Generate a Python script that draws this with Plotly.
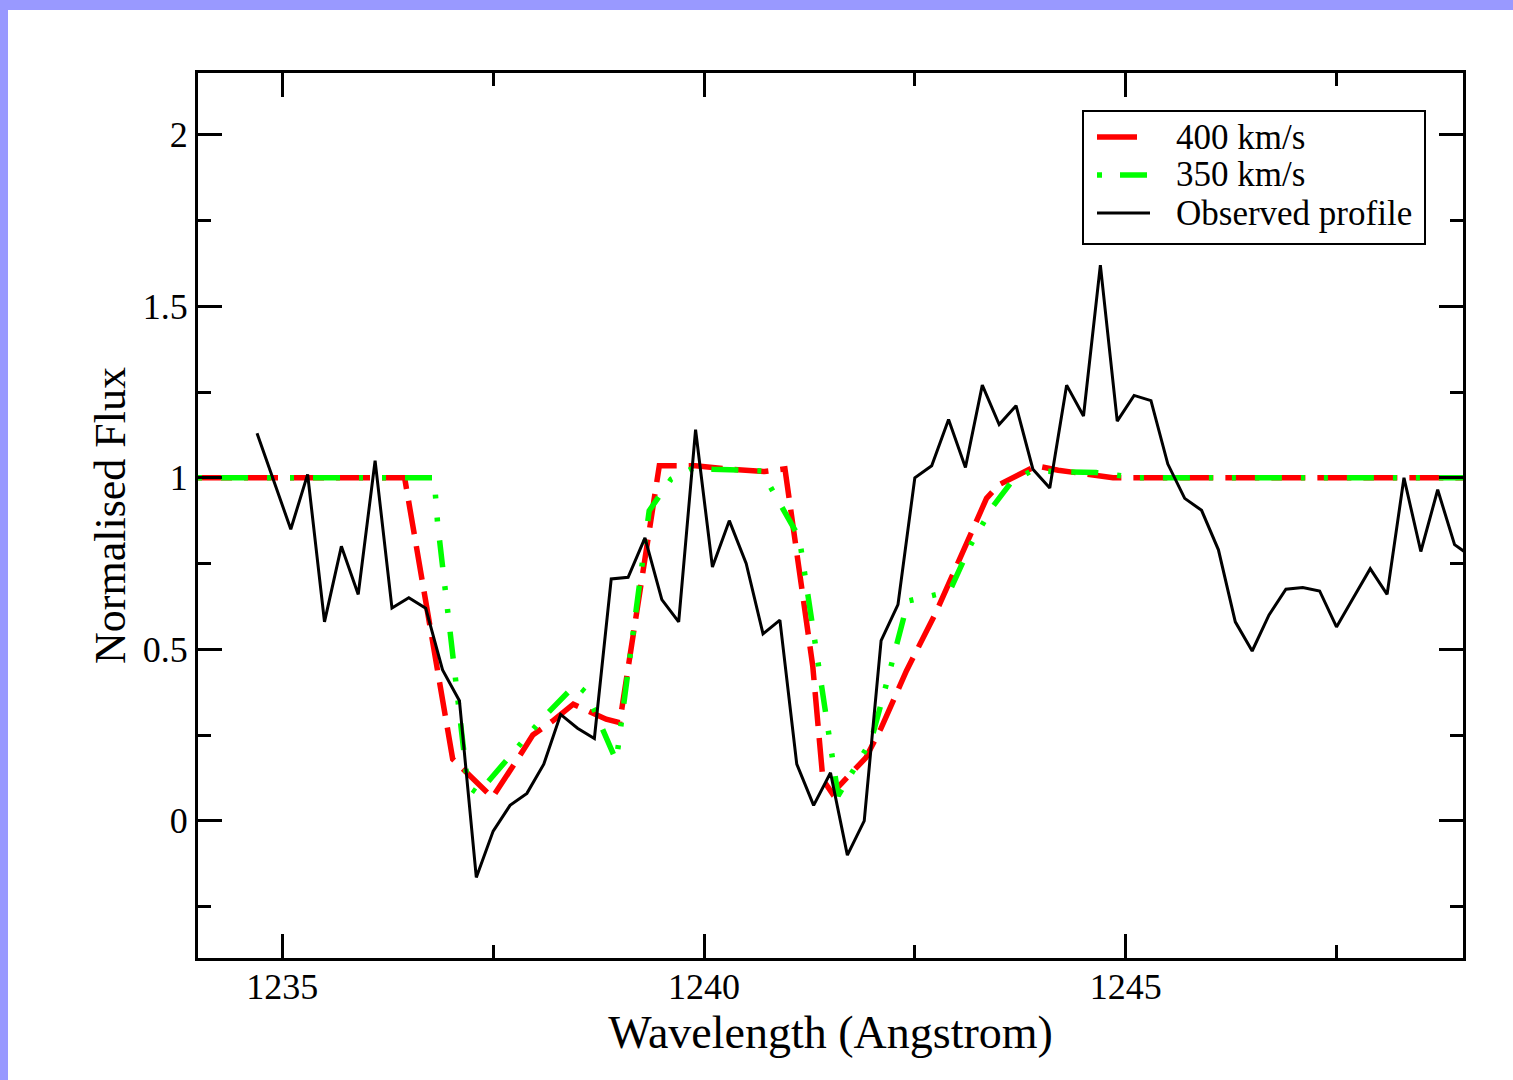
import plotly.graph_objects as go

# Observed profile
obs_x = [1234.7, 1234.9, 1235.1, 1235.3, 1235.5, 1235.7, 1235.9, 1236.1, 1236.3, 1236.5,
         1236.7, 1236.9, 1237.1, 1237.3, 1237.5, 1237.7, 1237.9, 1238.1, 1238.3, 1238.5,
         1238.7, 1238.9, 1239.1, 1239.3, 1239.5, 1239.7, 1239.9, 1240.1, 1240.3, 1240.5,
         1240.7, 1240.9, 1241.1, 1241.3, 1241.5, 1241.7, 1241.9, 1242.1, 1242.3, 1242.5,
         1242.7, 1242.9, 1243.1, 1243.3, 1243.5, 1243.7, 1243.9, 1244.1, 1244.3, 1244.5,
         1244.7, 1244.9, 1245.1, 1245.3, 1245.5, 1245.7, 1245.9, 1246.1, 1246.3, 1246.5,
         1246.7, 1246.9, 1247.1, 1247.3, 1247.5, 1247.7, 1247.9, 1248.1, 1248.3, 1248.5,
         1248.7, 1248.9, 1249.1]
obs_y = [1.13, 0.99, 0.85, 1.01, 0.58, 0.80, 0.66, 1.05, 0.62, 0.65,
         0.62, 0.44, 0.35, -0.165, -0.03, 0.045, 0.08, 0.165, 0.31, 0.27,
         0.24, 0.705, 0.71, 0.825, 0.645, 0.58, 1.14, 0.74, 0.875, 0.75,
         0.545, 0.585, 0.165, 0.045, 0.14, -0.10, 0.0, 0.525, 0.63, 1.0,
         1.035, 1.17, 1.03, 1.27, 1.155, 1.21, 1.025, 0.97, 1.27, 1.18,
         1.62, 1.165, 1.24, 1.225, 1.04, 0.94, 0.905, 0.79, 0.58, 0.495,
         0.60, 0.675, 0.68, 0.67, 0.565, 0.65, 0.735, 0.66, 1.0, 0.785,
         0.965, 0.805, 0.77]

# Model 400 km/s
red_x = [1234.0, 1236.45, 1237.02, 1237.49, 1237.79, 1237.97, 1238.2, 1238.45, 1238.84, 1239.0,
         1239.47, 1239.9, 1240.3, 1240.72, 1240.96, 1241.11, 1241.29, 1241.41, 1241.52, 1241.92,
         1242.1, 1242.4, 1242.75, 1243.35, 1243.5, 1243.94, 1244.2, 1244.85, 1249.0]
red_y = [1.0, 1.0, 0.18, 0.068, 0.18, 0.25, 0.29, 0.34, 0.296, 0.286,
         1.035, 1.035, 1.025, 1.018, 1.026, 0.76, 0.45, 0.12, 0.08, 0.184,
         0.27, 0.437, 0.607, 0.94, 0.98, 1.035, 1.022, 1.0, 1.0]

# Model 350 km/s
green_x = [1234.0, 1236.8, 1236.84, 1237.04, 1237.2, 1237.32, 1237.61, 1237.85, 1238.09, 1238.48,
           1238.6, 1238.72, 1238.96, 1239.35, 1239.61, 1239.89, 1240.1, 1240.68, 1241.13, 1241.59,
           1241.79, 1241.98, 1242.12, 1242.42, 1242.91, 1243.17, 1243.43, 1243.64, 1243.88, 1244.65,
           1245.12, 1249.0]
green_y = [1.0, 1.0, 0.87, 0.46, 0.1, 0.08, 0.165, 0.233, 0.30, 0.398,
           0.374, 0.311, 0.175, 0.904, 0.996, 1.03, 1.025, 1.02, 0.825, 0.073,
           0.155, 0.233, 0.359, 0.641, 0.668, 0.808, 0.918, 0.986, 1.02, 1.015,
           1.0, 1.0]

legend_labels = ["400 km/s", "350 km/s", "Observed profile"]

FONT = "Liberation Serif, Times New Roman, serif"
RED_DASH = "34px,12px"
GREEN_DASH = "4px,19px,27px,19px,4px,19px"

# plot area in pixels (for placing the hand-drawn legend box)
L, R, T, B = 198, 1463, 73, 958
def px(x):
    return (x - L) / (R - L)
def py(y):
    return (B - y) / (B - T)

fig = go.Figure()
fig.add_trace(go.Scatter(x=red_x, y=red_y, mode="lines", name=legend_labels[0],
                         line=dict(color="#ff0000", width=5.5, dash=RED_DASH)))
fig.add_trace(go.Scatter(x=green_x, y=green_y, mode="lines", name=legend_labels[1],
                         line=dict(color="#00ff00", width=5.5, dash=GREEN_DASH)))
fig.add_trace(go.Scatter(x=obs_x, y=obs_y, mode="lines", name=legend_labels[2],
                         line=dict(color="black", width=3)))

# lavender frame: white panel over lavender paper
fig.add_shape(type="rect", xref="paper", yref="paper", layer="below",
              x0=px(8), x1=1.2, y0=-0.3, y1=py(10),
              fillcolor="white", line=dict(width=0))

# legend box
fig.add_shape(type="rect", xref="paper", yref="paper", layer="above",
              x0=px(1083), x1=px(1425), y0=py(244), y1=py(111),
              fillcolor="white", line=dict(color="black", width=2))
legend_styles = [
    dict(color="#ff0000", width=5.5, dash="solid", x0=1097, x1=1137),
    dict(color="#00ff00", width=5.5, dash="5px,18px,27px,19px", x0=1097, x1=1147),
    dict(color="black", width=3, dash="solid", x0=1097, x1=1150),
]
row_y = [137, 175, 213]
for lab, st, yy in zip(legend_labels, legend_styles, row_y):
    fig.add_shape(type="line", xref="paper", yref="paper", layer="above",
                  x0=px(st["x0"]), x1=px(st["x1"]), y0=py(yy), y1=py(yy),
                  line=dict(color=st["color"], width=st["width"], dash=st["dash"]))
    fig.add_annotation(xref="paper", yref="paper", x=px(1174), y=py(yy),
                       xanchor="left", yanchor="middle", showarrow=False, text=lab,
                       font=dict(family=FONT, size=35, color="black"))

axis_common = dict(showline=True, linecolor="black", linewidth=3, mirror="allticks",
                   ticks="inside", ticklen=24, tickwidth=3, tickcolor="black",
                   showgrid=False, zeroline=False,
                   tickfont=dict(family=FONT, size=36, color="black"))

fig.update_xaxes(range=[1234, 1249], tick0=1235, dtick=5,
                 minor=dict(dtick=2.5, ticks="inside", ticklen=13, tickwidth=3,
                            tickcolor="black", showgrid=False),
                 title=dict(text="Wavelength (Angstrom)", standoff=5,
                            font=dict(family=FONT, size=46, color="black")),
                 ticklabelstandoff=-5, **axis_common)
fig.update_yaxes(range=[-0.4, 2.18], tick0=0, dtick=0.5,
                 minor=dict(dtick=0.25, ticks="inside", ticklen=13, tickwidth=3,
                            tickcolor="black", showgrid=False),
                 title=dict(text="Normalised Flux", standoff=4,
                            font=dict(family=FONT, size=44, color="black")),
                 ticklabelstandoff=0, **axis_common)

fig.update_layout(
    width=1513, height=1080,
    margin=dict(l=L, r=1513 - R, t=T, b=1080 - B),
    paper_bgcolor="#9999ff", plot_bgcolor="white",
    font=dict(family=FONT, color="black"),
    showlegend=False,
)

fig.write_html("out.html")
